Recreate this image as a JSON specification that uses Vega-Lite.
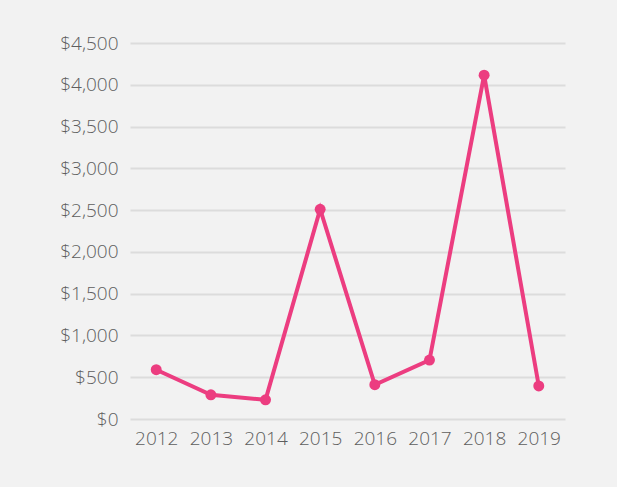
{
  "$schema": "https://vega.github.io/schema/vega-lite/v6.json",
  "width": 435,
  "height": 376,
  "autosize": "none",
  "padding": {"left": 130, "top": 43, "right": 52, "bottom": 68},
  "background": "#f2f2f2",
  "config": {
    "view": {"stroke": null},
    "font": "Open Sans"
  },
  "data": {
    "values": [
      {"year": "2012", "value": 590},
      {"year": "2013", "value": 290},
      {"year": "2014", "value": 230},
      {"year": "2015", "value": 2510},
      {"year": "2016", "value": 410},
      {"year": "2017", "value": 705},
      {"year": "2018", "value": 4115},
      {"year": "2019", "value": 395}
    ]
  },
  "encoding": {
    "x": {
      "field": "year", "type": "ordinal",
      "scale": {"type": "point", "padding": 0.48},
      "axis": {"title": null, "labelAngle": 0, "domain": false, "ticks": false, "labelPadding": 10, "labelFontSize": 19, "labelFontWeight": 300, "labelColor": "#5e5e5e", "labelFont": "Open Sans", "grid": false}
    },
    "y": {
      "field": "value", "type": "quantitative",
      "scale": {"domain": [0, 4500], "nice": false},
      "axis": {"title": null, "values": [0, 500, 1000, 1500, 2000, 2500, 3000, 3500, 4000, 4500], "format": "$,d", "domain": false, "ticks": false, "labelPadding": 12, "labelFontSize": 19, "labelFontWeight": 300, "labelFont": "Open Sans", "labelColor": "#5e5e5e", "gridColor": "#dcdcdc", "gridWidth": 2}
    }
  },
  "layer": [
    {"mark": {"type": "line", "color": "#ec3d80", "strokeWidth": 4}},
    {"mark": {"type": "point", "filled": true, "opacity": 1, "color": "#ec3d80", "size": 120}}
  ]
}
